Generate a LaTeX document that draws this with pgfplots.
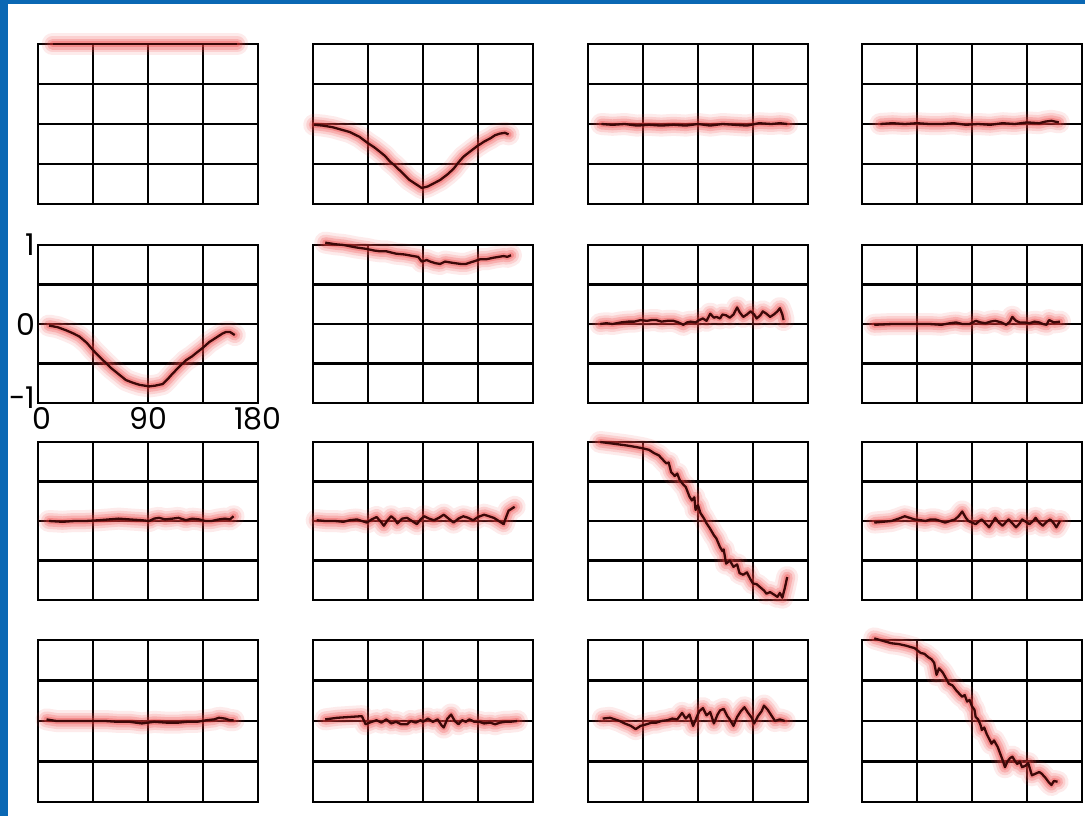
\documentclass[border=0pt]{standalone}
\usepackage{fontspec}
\setmainfont{Poppins}
\usepackage{pgfplots}
\usepackage{pgfplotstable}
\pgfplotsset{compat=1.18}
\definecolor{edgeblue}{RGB}{10,104,180}
\definecolor{glowred}{RGB}{240,60,60}
\definecolor{trace}{RGB}{60,8,8}

\pgfplotstableread{
x y
12 1.0
40 1.0
80 1.0
120 1.0
163 1.0
}\tAA
\pgfplotstableread{
x y
1 -0.01
8 -0.02
16 -0.04
23 -0.07
30 -0.10
38 -0.16
45 -0.24
50 -0.29
55 -0.35
59 -0.40
63 -0.47
67 -0.52
71 -0.58
75 -0.64
79 -0.70
84 -0.75
89 -0.80
94 -0.78
99 -0.74
104 -0.70
110 -0.63
115 -0.56
119 -0.48
123 -0.41
128 -0.35
134 -0.28
140 -0.22
145 -0.18
149 -0.14
153 -0.12
157 -0.11
160 -0.13
}\tAB
\pgfplotstableread{
x y
11 0.0
20 -0.01
30 0.0
40 -0.02
50 -0.01
60 -0.02
70 -0.01
80 -0.02
90 0.0
100 -0.02
110 0.0
120 -0.01
130 -0.02
140 0.01
150 0.0
157 0.01
163 0.0
}\tAC
\pgfplotstableread{
x y
15 0.0
25 0.01
35 0.0
45 0.01
55 0.0
65 0.0
75 0.01
85 -0.01
95 0.0
105 -0.01
115 0.01
125 0.0
135 0.02
145 0.01
150 0.03
155 0.04
161 0.02
}\tAD
\pgfplotstableread{
x y
9 -0.02
16 -0.04
23 -0.08
29 -0.12
34 -0.16
40 -0.24
45 -0.33
50 -0.41
56 -0.50
60 -0.56
64 -0.61
68 -0.66
72 -0.71
77 -0.74
83 -0.77
87 -0.78
91 -0.79
96 -0.78
102 -0.76
106 -0.70
110 -0.63
115 -0.55
121 -0.46
126 -0.41
130 -0.36
135 -0.30
140 -0.23
146 -0.17
151 -0.12
154 -0.10
157 -0.10
161 -0.14
}\tBA
\pgfplotstableread{
x y
10 1.03
18 1.01
25 1.00
35 0.97
44 0.95
50 0.93
55 0.92
60 0.92
68 0.89
75 0.88
82 0.86
86 0.85
89 0.79
93 0.81
96 0.79
100 0.77
104 0.76
108 0.79
112 0.78
116 0.77
121 0.76
125 0.76
129 0.78
133 0.80
137 0.82
142 0.82
148 0.84
152 0.85
156 0.86
159 0.85
162 0.87
}\tBB
\pgfplotstableread{
x y
10 0.0
15 0.01
20 0.0
27 0.02
33 0.03
38 0.03
43 0.05
48 0.04
52 0.05
56 0.05
60 0.03
65 0.04
70 0.04
74 0.02
78 -0.01
81 0.02
84 0.03
88 0.02
91 0.05
94 0.07
97 0.04
100 0.13
103 0.08
105 0.09
108 0.07
110 0.12
113 0.11
116 0.08
119 0.12
122 0.21
124 0.15
127 0.09
130 0.12
133 0.16
136 0.12
138 0.07
141 0.11
143 0.16
146 0.13
149 0.09
152 0.12
155 0.16
157 0.20
159 0.12
160 0.05
}\tBC
\pgfplotstableread{
x y
10 -0.01
25 0.0
43 0.0
55 0.0
65 -0.01
72 0.01
77 0.02
82 0.0
88 0.0
93 0.04
97 0.02
101 0.01
105 0.03
109 0.04
114 0.02
118 -0.01
121 0.03
123 0.09
126 0.04
129 0.02
133 0.02
137 0.01
141 0.03
145 0.02
148 0.0
151 -0.01
153 0.05
157 0.02
162 0.03
}\tBD
\pgfplotstableread{
x y
9 0.0
20 -0.01
30 0.0
39 0.0
50 0.01
58 0.02
66 0.03
75 0.02
85 0.01
91 0.0
95 0.03
99 0.04
104 0.02
110 0.03
115 0.04
121 0.01
126 0.03
132 0.02
137 0.0
142 0.0
148 0.02
153 0.03
157 0.02
160 0.06
}\tCA
\pgfplotstableread{
x y
3 0.01
10 0.0
18 0.0
25 -0.01
30 0.01
36 0.02
40 0.0
44 -0.02
48 0.02
52 0.05
55 0.0
58 -0.06
61 0.01
64 0.06
67 0.02
69 -0.03
73 0.03
77 0.04
81 0.0
85 -0.04
88 0.02
91 0.06
95 0.03
99 0.01
103 0.04
107 0.08
111 0.03
115 -0.02
119 0.03
123 0.06
127 0.04
131 0.01
135 0.05
140 0.08
144 0.06
148 0.04
152 0.0
156 -0.04
158 0.05
160 0.13
165 0.18
}\tCB
\pgfplotstableread{
x y
10 1.0
20 0.98
30 0.96
38 0.94
45 0.92
50 0.90
54 0.86
58 0.83
61 0.78
64 0.73
66 0.74
68 0.62
71 0.57
73 0.60
75 0.52
78 0.46
80 0.43
83 0.31
85 0.26
87 0.30
88 0.14
90 0.20
92 0.10
95 0.03
97 -0.03
100 -0.10
103 -0.18
105 -0.22
108 -0.33
110 -0.38
111 -0.36
113 -0.54
116 -0.50
119 -0.58
122 -0.55
124 -0.66
127 -0.68
130 -0.65
133 -0.74
135 -0.79
138 -0.80
141 -0.84
144 -0.88
146 -0.92
149 -0.90
152 -0.93
155 -0.96
157 -0.91
159 -0.97
161 -0.85
163 -0.71
}\tCC
\pgfplotstableread{
x y
10 -0.02
17 -0.01
24 0.0
30 0.03
35 0.06
39 0.04
43 0.02
48 0.01
52 0.0
56 0.02
60 0.02
64 0.0
68 -0.02
72 0.0
76 0.02
79 0.06
82 0.12
85 0.04
87 0.0
90 -0.02
93 -0.04
96 0.0
98 0.02
101 -0.03
104 -0.08
107 -0.01
109 0.04
112 -0.02
115 -0.06
118 -0.01
120 0.02
123 -0.03
126 -0.08
129 -0.03
131 0.02
134 -0.01
137 -0.04
140 0.0
142 0.04
145 -0.02
148 -0.06
151 -0.01
154 0.02
157 -0.03
159 -0.08
162 0.0
}\tCD
\pgfplotstableread{
x y
7 0.02
15 0.0
25 0.0
35 0.0
47 0.0
55 0.0
65 -0.01
75 -0.01
85 -0.03
95 -0.01
105 -0.02
115 -0.02
122 -0.01
130 -0.01
138 0.01
144 0.02
148 0.04
153 0.03
157 0.01
160 0.01
}\tDA
\pgfplotstableread{
x y
10 0.02
20 0.04
30 0.05
40 0.06
43 -0.04
48 -0.01
52 0.01
56 -0.02
60 0.02
64 -0.03
68 -0.01
72 -0.04
77 -0.04
80 0.0
84 -0.02
88 0.01
90 -0.01
94 0.03
98 -0.01
102 0.02
105 -0.05
107 -0.08
110 0.03
113 0.08
116 0.0
119 -0.04
122 0.01
125 -0.01
128 0.02
132 -0.01
136 -0.01
140 -0.03
145 -0.02
149 -0.04
153 -0.02
157 -0.01
161 -0.01
167 0.0
}\tDB
\pgfplotstableread{
x y
12 0.03
18 0.04
22 0.02
26 0.0
30 -0.03
35 -0.06
39 -0.10
43 -0.06
48 -0.04
52 -0.02
56 -0.02
60 0.0
65 0.01
69 0.03
73 0.02
77 0.10
80 0.03
83 0.08
86 -0.06
89 0.05
91 0.12
94 0.16
97 0.07
100 0.11
103 -0.03
106 0.08
108 0.13
111 0.15
114 0.06
116 0.02
119 -0.06
122 0.05
125 0.12
128 0.17
131 0.10
134 0.04
136 -0.03
139 0.06
142 0.12
144 0.19
147 0.14
150 0.07
153 0.0
157 0.02
161 0.0
}\tDC
\pgfplotstableread{
x y
10 1.02
17 0.99
24 0.96
30 0.95
36 0.93
43 0.90
48 0.84
51 0.83
54 0.79
57 0.76
59 0.72
61 0.57
63 0.65
66 0.60
69 0.52
71 0.46
74 0.44
77 0.38
80 0.33
82 0.30
84 0.32
86 0.24
88 0.26
90 0.18
92 0.14
93 0.05
95 0.02
97 -0.05
98 -0.11
100 -0.08
102 -0.16
104 -0.22
106 -0.28
108 -0.24
111 -0.32
113 -0.40
115 -0.48
117 -0.57
119 -0.50
121 -0.46
123 -0.44
125 -0.49
127 -0.53
129 -0.50
131 -0.57
134 -0.55
136 -0.52
138 -0.62
139 -0.67
142 -0.65
145 -0.63
147 -0.65
150 -0.70
153 -0.76
155 -0.79
157 -0.74
160 -0.75
}\tDD

\newcommand\glow[1]{%
  \addplot[glowred, line width=11pt, opacity=0.10, line cap=round, line join=round] table {#1};
  \addplot[glowred, line width=8pt, opacity=0.15, line cap=round, line join=round] table {#1};
  \addplot[glowred, line width=5.5pt, opacity=0.22, line cap=round, line join=round] table {#1};
  \addplot[glowred, line width=3pt, opacity=0.30, line cap=round, line join=round] table {#1};
  \addplot[trace, line width=1.15pt, line join=round] table {#1};
}

\pgfplotsset{
  cell/.style={
    width=110pt, height=80pt, scale only axis, anchor=south west,
    xmin=0, xmax=180, ymin=-1, ymax=1,
    xtick={0,45,90,135,180}, ytick={-1,-0.5,0,0.5,1},
    xticklabels={}, yticklabels={},
    major tick length=0pt,
    grid=major, major grid style={black, line width=1.2pt},
    axis line style={black, line width=1.3pt},
    clip=false,
    tick label style={font=\fontsize{15}{15}\selectfont, inner sep=0pt},
  }
}

\begin{document}
\begin{tikzpicture}
\fill[white] (0,0) rectangle (542.5pt,408pt);
\useasboundingbox (0,0) rectangle (542.5pt,408pt);
\fill[edgeblue] (0,0) rectangle (4pt,408pt);
\fill[edgeblue] (0,406pt) rectangle (542.5pt,408pt);

% row 1
\begin{axis}[cell, at={(19pt,306pt)}] \glow{\tAA} \end{axis}
\begin{axis}[cell, at={(156.5pt,306pt)}] \glow{\tAB} \end{axis}
\begin{axis}[cell, at={(294pt,306pt)}] \glow{\tAC} \end{axis}
\begin{axis}[cell, at={(431pt,306pt)}] \glow{\tAD} \end{axis}
% row 2
\begin{axis}[cell, at={(19pt,206.5pt)}, height=79pt,
  xticklabels={\hspace*{4pt}0,,90,,180}, yticklabels={\raisebox{5pt}{-1},,0,,\raisebox{-3pt}{1}},
  xticklabel style={yshift=-2pt}, yticklabel style={xshift=-1pt}]
  \glow{\tBA} \end{axis}
\begin{axis}[cell, at={(156.5pt,206.5pt)}, height=79pt] \glow{\tBB} \end{axis}
\begin{axis}[cell, at={(294pt,206.5pt)}, height=79pt] \glow{\tBC} \end{axis}
\begin{axis}[cell, at={(431pt,206.5pt)}, height=79pt] \glow{\tBD} \end{axis}
% row 3
\begin{axis}[cell, at={(19pt,108pt)}, height=79pt] \glow{\tCA} \end{axis}
\begin{axis}[cell, at={(156.5pt,108pt)}, height=79pt] \glow{\tCB} \end{axis}
\begin{axis}[cell, at={(294pt,108pt)}, height=79pt] \glow{\tCC} \end{axis}
\begin{axis}[cell, at={(431pt,108pt)}, height=79pt] \glow{\tCD} \end{axis}
% row 4
\begin{axis}[cell, at={(19pt,7pt)}, height=81pt] \glow{\tDA} \end{axis}
\begin{axis}[cell, at={(156.5pt,7pt)}, height=81pt] \glow{\tDB} \end{axis}
\begin{axis}[cell, at={(294pt,7pt)}, height=81pt] \glow{\tDC} \end{axis}
\begin{axis}[cell, at={(431pt,7pt)}, height=81pt] \glow{\tDD} \end{axis}
\end{tikzpicture}
\end{document}
